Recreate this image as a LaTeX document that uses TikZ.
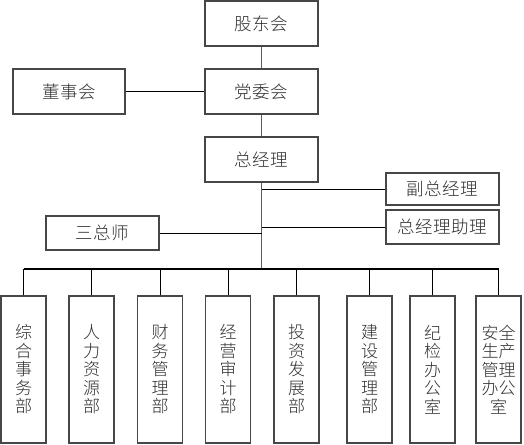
\documentclass[tikz,border=0pt]{standalone}
\usepackage{fontspec}
\setmainfont{Noto Sans CJK SC}[UprightFont=* Light]
\usetikzlibrary{positioning}
\definecolor{frame}{HTML}{474747}
\definecolor{wire}{HTML}{5C5C5C}
\definecolor{label}{HTML}{2E2E2E}
\tikzset{unitbox/.style={draw=frame,line width=1.3pt,fill=white,text=label,inner sep=0pt,minimum width=113pt,minimum height=45pt,font=\fontsize{17.5}{18}\selectfont\addfontfeatures{LetterSpace=3}},deptbox/.style={unitbox,minimum width=45pt,minimum height=147pt,align=center,font=\fontsize{17}{18.5}\selectfont},trunk/.style={draw=wire,line width=1.6pt},branch/.style={draw=black,line width=.9pt}}

\begin{document}
\begin{tikzpicture}[x=1pt,y=-1pt]
\useasboundingbox (0,0) rectangle (524,444);
% top of the chart
\node[unitbox] (gdh) at (261.5,23.5) {股东会};
\node[unitbox] (dwh) at (261.5,91.5) {党委会};
\node[unitbox,minimum width=112pt] (dsh) at (69,91.5) {董事会};
\node[unitbox] (zjl) at (261.5,159.5) {总经理};
\node[unitbox,minimum height=32pt] (fzjl) at (442.5,189) {副总经理};
\node[unitbox,minimum height=34pt] (zjlzl) at (442.5,227) {总经理助理};
\node[unitbox,minimum height=34pt] (szs) at (102.5,233) {三总师};
% departments
\node[deptbox] (d1) at (23.5,369.5) {综\\合\\事\\务\\部};
\node[deptbox] (d2) at (91.5,369.5) {人\\力\\资\\源\\部};
\node[deptbox] (d3) at (160,369.5) {财\\务\\管\\理\\部};
\node[deptbox] (d4) at (228,369.5) {经\\营\\审\\计\\部};
\node[deptbox] (d5) at (296.5,369.5) {投\\资\\发\\展\\部};
\node[deptbox] (d6) at (369.5,369.5) {建\\设\\管\\理\\部};
\node[deptbox] (d7) at (432.5,369.5) {纪\\检\\办\\公\\室};
\node[deptbox] (d8) at (498.5,369.5) {安全\\生产\\管理\\办公\\室};
\coordinate (bus) at (261.5,269);
% connectors
\draw[trunk] (gdh) -- (dwh);\draw[trunk] (dwh) -- (zjl);
\draw[branch] (dsh) -- (dwh);
\draw[trunk] (zjl.south) -- (bus);
\draw[branch] (fzjl.west) -- (fzjl.west -| bus);
\draw[branch] (zjlzl.west) -- (zjlzl.west -| bus);
\draw[branch] (szs.east) -- (szs.east -| bus);
\draw[branch,line width=1.3pt] (d1.north |- bus) -- (d8.north |- bus);
\foreach \d in {d1,d2,d3,d4,d5,d6,d7,d8} \draw[branch] (\d.north) -- (\d.north |- bus);
\end{tikzpicture}
\end{document}
